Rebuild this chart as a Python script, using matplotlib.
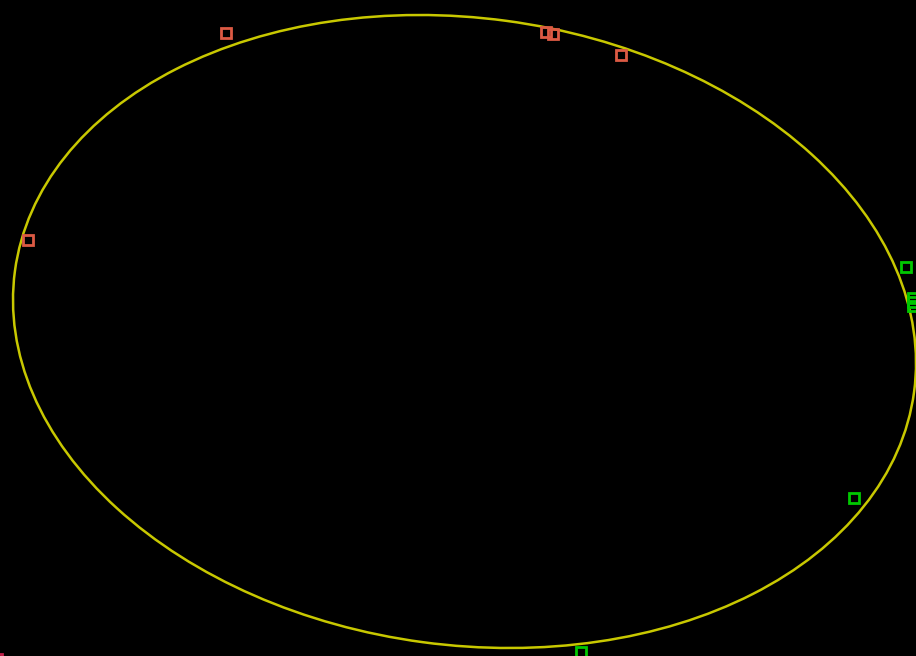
import matplotlib
matplotlib.use("Agg")
import matplotlib.pyplot as plt
from matplotlib.patches import Ellipse
import numpy as np

# grupo A (laranja/vermelho)
grupo_a_x = [226, 546, 553, 621, 28]
grupo_a_y = [623, 624, 622, 601, 416]

# ponto isolado no canto
grupo_c_x = [-3]
grupo_c_y = [-3]

# grupo B (verde)
grupo_b_x = [906, 913, 913, 913, 854, 581]
grupo_b_y = [389, 358, 354, 350, 158, 4]

# elipse: centro e covariancia
centro = (464.5, 324.5)
cov_xx = 203852.0
cov_yy = 100172.0
cov_xy = -14222.0


def desenhar():
    fig = plt.figure(figsize=(9.16, 6.56), dpi=100, facecolor="black")
    ax = fig.add_axes([0, 0, 1, 1])
    ax.set_facecolor("black")

    cov = np.array([[cov_xx, cov_xy], [cov_xy, cov_yy]])
    vals, vecs = np.linalg.eigh(cov)
    ordem = vals.argsort()[::-1]
    vals, vecs = vals[ordem], vecs[:, ordem]
    angulo = np.degrees(np.arctan2(vecs[1, 0], vecs[0, 0]))
    elipse = Ellipse(centro, 2 * np.sqrt(vals[0]), 2 * np.sqrt(vals[1]), angle=angulo,
                     facecolor="none", edgecolor="#c8c800", linewidth=1.8)
    ax.add_patch(elipse)

    #Marcadores quadrados vazios
    ax.plot(grupo_a_x, grupo_a_y, ls="none", marker="s", ms=7, mfc="none",
            mec="#dc5a44", mew=2)
    ax.plot(grupo_c_x, grupo_c_y, ls="none", marker="s", ms=7, mfc="none",
            mec="#c0204a", mew=2)
    ax.plot(grupo_b_x, grupo_b_y, ls="none", marker="s", ms=7, mfc="none",
            mec="#00c800", mew=2)

    ax.set_xlim(0, 916)
    ax.set_ylim(0, 656)
    ax.axis("off")

    fig.savefig("out.png", dpi=100, facecolor="black")
    plt.close(fig)


if __name__ == "__main__":
    desenhar()
